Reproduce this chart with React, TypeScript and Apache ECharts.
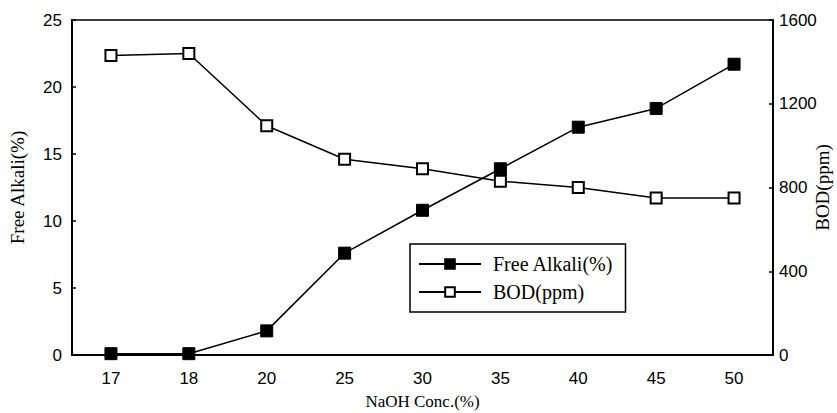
import React, { useEffect, useRef } from "react";
import * as echarts from "echarts";

const categories = ["17", "18", "20", "25", "30", "35", "40", "45", "50"];
const freeAlkali = [0.1, 0.1, 1.8, 7.6, 10.8, 13.9, 17.0, 18.4, 21.7];
const bod = [1430, 1440, 1095, 935, 890, 830, 800, 750, 750];

export default function App() {
  const ref = useRef<HTMLDivElement>(null);
  useEffect(() => {
    if (!ref.current) return;
    const chart = echarts.init(ref.current, null, { renderer: "svg" });
    const sans = "Liberation Sans";
    const serif = "Liberation Serif";
    chart.setOption({
      animation: false,
      backgroundColor: "#fff",
      grid: {
        left: 72,
        right: 64,
        top: 20,
        bottom: 58,
        show: true,
        borderColor: "#000",
        borderWidth: 1.5,
        containLabel: false,
        outerBoundsMode: "none",
      },
      legend: {
        orient: "vertical",
        left: 410,
        top: 244,
        borderColor: "#000",
        borderWidth: 1.5,
        padding: [10, 12, 10, 8],
        itemGap: 8,
        itemWidth: 62,
        itemHeight: 12,
        textStyle: { fontFamily: serif, fontSize: 20, color: "#000", padding: [0, 0, 0, 7] },
        data: ["Free Alkali(%)", "BOD(ppm)"],
      },
      xAxis: {
        type: "category",
        data: categories,
        boundaryGap: true,
        name: "NaOH Conc.(%)",
        nameLocation: "middle",
        nameGap: 38,
        nameMoveOverlap: false,
        nameTextStyle: { fontFamily: serif, fontSize: 17, color: "#000" },
        axisLine: { lineStyle: { color: "#000", width: 2 } },
        axisTick: { inside: true, length: 4, lineStyle: { color: "#000", width: 1.5 } },
        axisLabel: { fontFamily: sans, fontSize: 17, color: "#000", margin: 15 },
        splitLine: { show: false },
      },
      yAxis: [
        {
          type: "value",
          min: 0,
          max: 25,
          interval: 5,
          name: "Free Alkali(%)",
          nameLocation: "middle",
          nameGap: 45,
          nameMoveOverlap: false,
          nameTextStyle: { fontFamily: serif, fontSize: 19, color: "#000" },
          axisLine: { show: true, lineStyle: { color: "#000", width: 2 } },
          axisTick: { show: true, inside: true, length: 4, lineStyle: { color: "#000", width: 1.5 } },
          axisLabel: { fontFamily: sans, fontSize: 17, color: "#000", margin: 10 },
          splitLine: { show: false },
        },
        {
          type: "value",
          min: 0,
          max: 1600,
          interval: 400,
          position: "right",
          name: "BOD(ppm)",
          nameLocation: "middle",
          nameGap: 40,
          nameMoveOverlap: false,
          nameRotate: 90,
          nameTextStyle: { fontFamily: serif, fontSize: 19, color: "#000" },
          axisLine: { show: true, lineStyle: { color: "#000", width: 2 } },
          axisTick: { show: true, inside: true, length: 4, lineStyle: { color: "#000", width: 1.5 } },
          axisLabel: {
            fontFamily: sans,
            fontSize: 17,
            color: "#000",
            margin: 6,
            formatter: (v: number) => String(v),
          },
          splitLine: { show: false },
        },
      ],
      series: [
        {
          name: "Free Alkali(%)",
          type: "line",
          yAxisIndex: 0,
          data: freeAlkali,
          symbol: "rect",
          symbolSize: 12,
          lineStyle: { color: "#000", width: 1.5 },
          itemStyle: { color: "#000", borderColor: "#000", borderWidth: 1 },
        },
        {
          name: "BOD(ppm)",
          type: "line",
          yAxisIndex: 1,
          data: bod,
          symbol: "rect",
          symbolSize: 11,
          showAllSymbol: true,
          lineStyle: { color: "#000", width: 1.5 },
          itemStyle: { color: "#fff", borderColor: "#000", borderWidth: 2 },
        },
      ],
    });
    return () => chart.dispose();
  }, []);
  return (
    <div
      ref={ref}
      style={{ position: "fixed", left: 0, top: 0, width: 837, height: 413 }}
    />
  );
}
